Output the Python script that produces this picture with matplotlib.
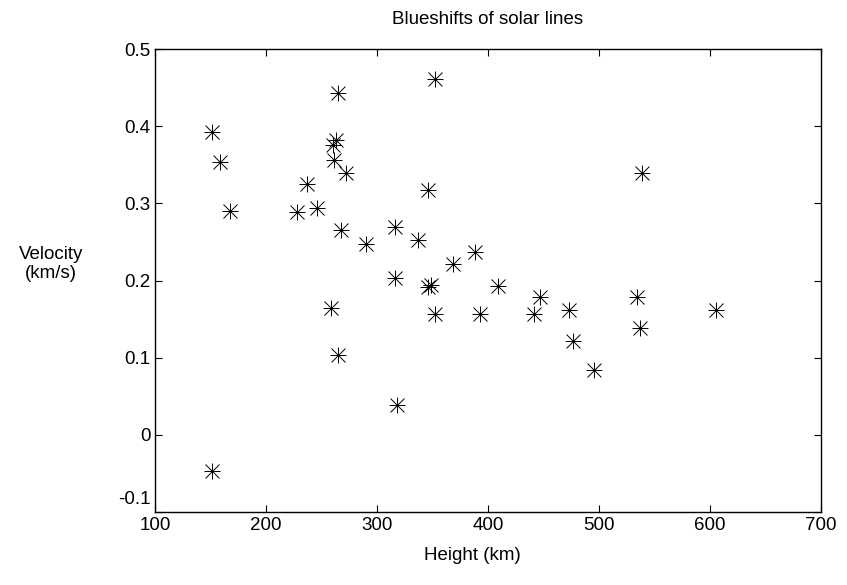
import matplotlib.pyplot as plt
from matplotlib.transforms import ScaledTranslation

plt.rcParams["font.family"] = ["Liberation Sans", "DejaVu Sans"]

# data
height_km = [151, 159, 168, 151, 228, 237, 246, 259, 260, 261.5, 263, 265,
             265, 268, 272, 290, 316, 316, 318, 337, 346, 346, 349, 352,
             352, 369, 388, 393, 409, 442, 447, 473, 477, 496, 534, 537,
             539, 606]
velocity = [0.392, 0.354, 0.290, -0.047, 0.289, 0.325, 0.294, 0.164, 0.376,
            0.356, 0.382, 0.443, 0.103, 0.265, 0.339, 0.247, 0.269, 0.203,
            0.039, 0.252, 0.318, 0.192, 0.194, 0.461, 0.156, 0.221, 0.237,
            0.157, 0.193, 0.157, 0.178, 0.162, 0.122, 0.084, 0.179, 0.138,
            0.340, 0.162]

x_ticks = [100, 200, 300, 400, 500, 600, 700]
y_ticks = [-0.1, 0, 0.1, 0.2, 0.3, 0.4, 0.5]
y_tick_labels = ["-0.1", "0", "0.1", "0.2", "0.3", "0.4", "0.5"]

fs = 13.5

fig = plt.figure(figsize=(8.47, 5.85), dpi=100)
ax = fig.add_axes([0.183, 0.125, 0.786, 0.791])

# MATLAB style asterisk = plus + cross on top of each other
ax.plot(height_km, velocity, linestyle="none", marker="+", markersize=11,
        markeredgewidth=0.7, color="black")
ax.plot(height_km, velocity, linestyle="none", marker="x", markersize=10,
        markeredgewidth=0.7, color="black")

ax.set_xlim(100, 700)
ax.set_ylim(-0.1, 0.5)
ax.set_xticks(x_ticks)
ax.set_yticks(y_ticks)
ax.set_yticklabels(y_tick_labels)
ax.tick_params(direction="in", top=True, right=True, length=5, width=0.8,
               labelsize=fs)
ax.tick_params(axis="y", pad=3)
ax.tick_params(axis="x", pad=4)
for s in ax.spines.values():
    s.set_linewidth(1.0)

# lowest y label sits a bit higher, like in the original (clears the "100")
low = ax.get_yticklabels()[0]
low.set_va("bottom")
low.set_transform(low.get_transform() + ScaledTranslation(0, 3 / 72, fig.dpi_scale_trans))

ax.set_title("Blueshifts of solar lines", fontsize=fs, pad=18)
ax.set_xlabel("Height (km)", fontsize=fs)
ax.xaxis.set_label_coords(0.476, -0.075)
ax.text(-0.156, 0.536, "Velocity\n(km/s)", transform=ax.transAxes,
        ha="center", va="center", multialignment="center", fontsize=fs)

fig.savefig("out.png", dpi=100)
